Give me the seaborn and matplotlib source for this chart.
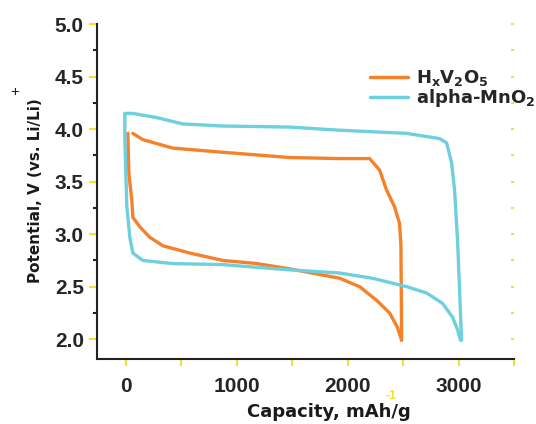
import numpy as np
import pandas as pd
import matplotlib
matplotlib.use("Agg")
import matplotlib.pyplot as plt
import seaborn as sns

# HxV2O5 charge (upper) and discharge (lower) branches
hv_charge_cap = [63, 153, 423, 874, 1477, 1928, 2198, 2288, 2351, 2423, 2468, 2480, 2484, 2486]
hv_charge_v = [3.96, 3.90, 3.82, 3.78, 3.73, 3.72, 3.72, 3.61, 3.42, 3.26, 3.10, 2.90, 2.40, 1.99]
hv_dis_cap = [18, 27, 54, 63, 126, 216, 333, 577, 874, 1180, 1477, 1928, 2108, 2261, 2378, 2450, 2486]
hv_dis_v = [3.96, 3.58, 3.32, 3.16, 3.07, 2.97, 2.89, 2.82, 2.75, 2.72, 2.67, 2.58, 2.50, 2.37, 2.25, 2.11, 1.99]

# alpha-MnO2 charge (upper) and discharge (lower) branches
mn_charge_cap = [-9, 63, 279, 513, 874, 1477, 1928, 2532, 2829, 2892, 2937, 2964, 2991, 3009, 3027]
mn_charge_v = [4.15, 4.15, 4.11, 4.05, 4.03, 4.02, 3.99, 3.96, 3.91, 3.87, 3.68, 3.42, 2.94, 2.47, 1.99]
mn_dis_cap = [-9, -9, 0, 9, 36, 63, 153, 423, 874, 1477, 1928, 2225, 2532, 2712, 2856, 2946, 2991, 3018]
mn_dis_v = [4.15, 3.90, 3.58, 3.26, 2.97, 2.82, 2.75, 2.72, 2.71, 2.66, 2.63, 2.58, 2.50, 2.44, 2.34, 2.21, 2.09, 1.99]

materials = [r"H$_\mathregular{x}$V$_\mathregular{2}$O$_\mathregular{5}$", r"alpha-MnO$_\mathregular{2}$"]
palette = {materials[0]: "#F5822A", materials[1]: "#6ECFDE"}

frames = []
for mat, branch, cap, v in [
    (materials[0], "charge", hv_charge_cap, hv_charge_v),
    (materials[0], "discharge", hv_dis_cap, hv_dis_v),
    (materials[1], "charge", mn_charge_cap, mn_charge_v),
    (materials[1], "discharge", mn_dis_cap, mn_dis_v),
]:
    frames.append(pd.DataFrame({"cap": cap, "v": v, "material": mat, "branch": mat + branch}))
df = pd.concat(frames, ignore_index=True)

sns.set_style("white")
plt.rcParams["font.family"] = ["Liberation Sans", "DejaVu Sans"]
plt.rcParams["mathtext.fontset"] = "custom"
plt.rcParams["mathtext.rm"] = "DejaVu Sans:bold"

yellow = "#EEE42C"
label_font = {"family": "DejaVu Sans", "weight": "bold", "size": 13}

fig = plt.figure(figsize=(5.36, 4.24), dpi=100)
ax = fig.add_axes([0.181, 0.153, 0.778, 0.79])

sns.lineplot(data=df, x="cap", y="v", hue="material", units="branch", estimator=None,
             sort=False, palette=palette, hue_order=materials, linewidth=2.4, ax=ax)

ax.set_xlim(-260, 3500)
ax.set_ylim(1.81, 5.0)
ax.set_xticks([0, 1000, 2000, 3000])
ax.set_xticks([500, 1500, 2500, 3500], minor=True)
ax.set_yticks([2.0, 2.5, 3.0, 3.5, 4.0, 4.5, 5.0])
ax.set_yticks(np.arange(2.25, 5.0, 0.5), minor=True)
ax.set_yticklabels([f"{t:.1f}" for t in ax.get_yticks()])

for side in ["top", "right"]:
    ax.spines[side].set_visible(False)
for side in ["left", "bottom"]:
    ax.spines[side].set_color("#222222")
    ax.spines[side].set_linewidth(1.5)

ax.tick_params(axis="x", which="both", bottom=True, direction="out", length=5, width=1.5,
               color=yellow, labelsize=15, pad=8)
ax.tick_params(axis="y", which="major", left=True, direction="out", length=6, width=1.5,
               color=yellow, labelsize=15)
ax.tick_params(axis="y", which="minor", left=True, direction="out", length=3, width=1.5,
               color="#222222")
for lab in ax.get_xticklabels() + ax.get_yticklabels():
    lab.set_fontweight("bold")

sec = ax.secondary_yaxis("right")
sec.spines["right"].set_visible(False)
sec.set_yticks(np.arange(2.0, 5.01, 0.25))
sec.tick_params(axis="y", right=True, direction="in", length=2, width=1.5, color=yellow,
                labelright=False)

ax.set_xlabel("Capacity, mAh/g", fontdict=label_font, color="#1a1a1a")
ax.xaxis.set_label_coords(0.556, -0.13)
ax.set_ylabel("Potential, V (vs. Li/Li)", fontdict={**label_font, "size": 11},
              color="#1a1a1a")
ax.yaxis.set_label_coords(-0.13, 0.504)
fig.text(391 / 536, 1 - 396 / 424, "-1", color=yellow, fontsize=9, ha="center", va="center",
         fontweight="bold")
fig.text(15 / 536, 1 - 92 / 424, "+", color="#222222", fontsize=11, ha="center", va="center")

leg = ax.legend(loc="upper right", bbox_to_anchor=(1.09, 0.918), frameon=False,
                handlelength=2.1, handletextpad=0.45, labelspacing=-0.05, prop=label_font)
for line in leg.get_lines():
    line.set_linewidth(2.5)

fig.savefig("out.png", dpi=100)
